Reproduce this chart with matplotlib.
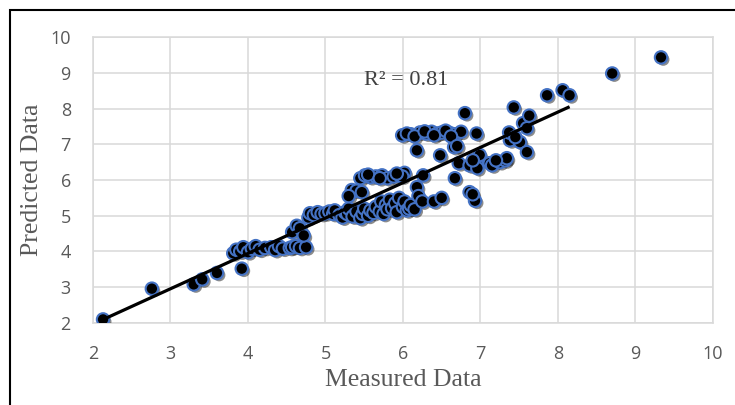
import numpy as np
import matplotlib.pyplot as plt
import matplotlib.patheffects as pe
from matplotlib.patches import Rectangle

# measured vs predicted values (main series, gets the linear trendline)
x_meas = [2.13, 2.76, 3.30, 3.41, 3.60, 3.92, 3.81, 3.85, 3.90, 3.94,
          4.00, 4.05, 4.10, 4.15, 4.22, 4.30, 4.35, 4.40, 4.45, 4.54,
          4.57, 4.62, 4.67, 4.75, 4.57, 4.63, 4.67, 4.72, 4.78, 4.80,
          4.85, 4.90, 4.95, 5.00, 5.05, 5.10, 5.12, 5.18, 5.22, 5.25,
          5.28, 5.30, 5.35, 5.40, 5.45, 5.48, 5.50, 5.55, 5.58, 5.62,
          5.65, 5.70, 5.72, 5.75, 5.78, 5.80, 5.83, 5.86, 5.90, 5.92,
          5.95, 6.00, 6.02, 6.05, 6.08, 6.10, 6.15, 6.18, 6.20, 6.25,
          5.34, 5.40, 5.47, 5.30, 5.45, 5.51, 5.58, 5.65, 5.73, 5.80,
          5.88, 5.96, 6.02, 5.99, 6.26, 6.18, 6.48, 6.66, 6.67, 6.72,
          6.86, 6.86, 6.93, 6.90, 6.40, 6.50, 5.99, 6.10, 6.22, 6.30,
          6.37, 6.44, 6.50, 6.60, 6.67, 6.75, 6.95, 6.80, 6.95, 6.99,
          7.12, 7.15, 7.25, 7.32, 7.34, 7.38, 7.37, 7.43, 7.51, 7.55,
          7.60, 7.60, 7.63, 7.86, 8.06, 8.15, 6.96, 6.90, 6.05, 6.15,
          6.28, 6.40, 6.55, 6.62, 5.55, 5.70, 5.92, 6.70, 7.45, 7.20]
y_pred = [2.10, 2.96, 3.08, 3.22, 3.40, 3.52, 3.95, 4.05, 4.00, 4.12,
          3.98, 4.08, 4.15, 4.05, 4.10, 4.12, 4.04, 4.15, 4.08, 4.10,
          4.12, 4.15, 4.10, 4.12, 4.54, 4.72, 4.65, 4.45, 4.95, 5.07,
          5.02, 5.10, 5.05, 5.07, 5.12, 5.05, 5.15, 5.02, 4.95, 5.10,
          5.05, 5.20, 4.98, 5.12, 4.93, 5.05, 5.20, 5.00, 5.15, 5.08,
          5.25, 5.12, 5.40, 5.05, 5.30, 5.18, 5.45, 5.21, 5.35, 5.10,
          5.50, 5.25, 5.40, 5.15, 5.20, 5.30, 5.18, 5.80, 5.55, 5.40,
          5.72, 5.70, 5.66, 5.55, 6.05, 6.13, 6.08, 6.10, 6.13, 6.05,
          6.10, 6.13, 6.20, 6.10, 6.13, 6.83, 6.69, 6.92, 6.05, 6.47,
          6.41, 5.66, 5.42, 5.60, 5.40, 5.50, 7.25, 7.28, 7.33, 7.30,
          7.35, 7.30, 7.33, 7.32, 7.28, 7.35, 7.30, 7.87, 6.50, 6.70,
          6.47, 6.41, 6.50, 6.55, 6.61, 7.11, 7.33, 8.03, 7.06, 7.59,
          7.45, 6.78, 7.80, 8.37, 8.51, 8.37, 6.33, 6.55, 7.30, 7.22,
          7.36, 7.25, 7.38, 7.22, 6.15, 6.05, 6.18, 6.95, 7.20, 6.55]

# two high points outside the trendline range
x_extra = [8.70, 9.33]
y_extra = [8.98, 9.43]

r2_label = "R² = 0.81"
ticks = [2, 3, 4, 5, 6, 7, 8, 9, 10]

fig = plt.figure(figsize=(7.35, 4.05), dpi=100, facecolor="white")
ax = fig.add_axes([0.1265, 0.2025, 0.8435, 0.7061])

shadow = [pe.SimplePatchShadow(offset=(1.6, -1.6), shadow_rgbFace="black", alpha=0.45),
          pe.Normal()]
for xs, ys in [(x_meas, y_pred), (x_extra, y_extra)]:
    sc = ax.scatter(xs, ys, s=80, c="black", edgecolors="#4472C4",
                    linewidths=1.5, zorder=3)
    sc.set_path_effects(shadow)

# linear trendline over the main series
k, b = np.polyfit(x_meas, y_pred, 1)
xl = np.array([min(x_meas), max(x_meas)])
ax.plot(xl, k * xl + b, color="black", lw=2.3, zorder=4, solid_capstyle="butt")

ax.text(6.04, 8.79, r2_label, ha="center", va="center", fontsize=16,
        family="Liberation Serif", color="#404040")

ax.set_xlim(2, 10)
ax.set_ylim(2, 10)
ax.set_xticks(ticks)
ax.set_yticks(ticks)
ax.grid(True, color="#d9d9d9", lw=1.1)
ax.set_axisbelow(True)
for s in ax.spines.values():
    s.set_color("#d9d9d9")
    s.set_linewidth(1.1)
ax.tick_params(length=0, pad=16, labelsize=13, labelcolor="#595959")
for lab in ax.get_xticklabels() + ax.get_yticklabels():
    lab.set_family("Open Sans")

ax.set_xlabel("Measured Data", fontsize=18.5, family="Liberation Serif",
              color="#595959", labelpad=4)
ax.set_ylabel("Predicted Data", fontsize=18.5, family="Liberation Serif",
              color="#595959", labelpad=5)

# chart frame (cut off at right and bottom)
fig.add_artist(Rectangle((10 / 735, -0.1), 1.0, 395 / 405 + 0.1,
                         transform=fig.transFigure, fill=False,
                         ec="black", lw=1.5))

fig.savefig("out.png", dpi=100)
